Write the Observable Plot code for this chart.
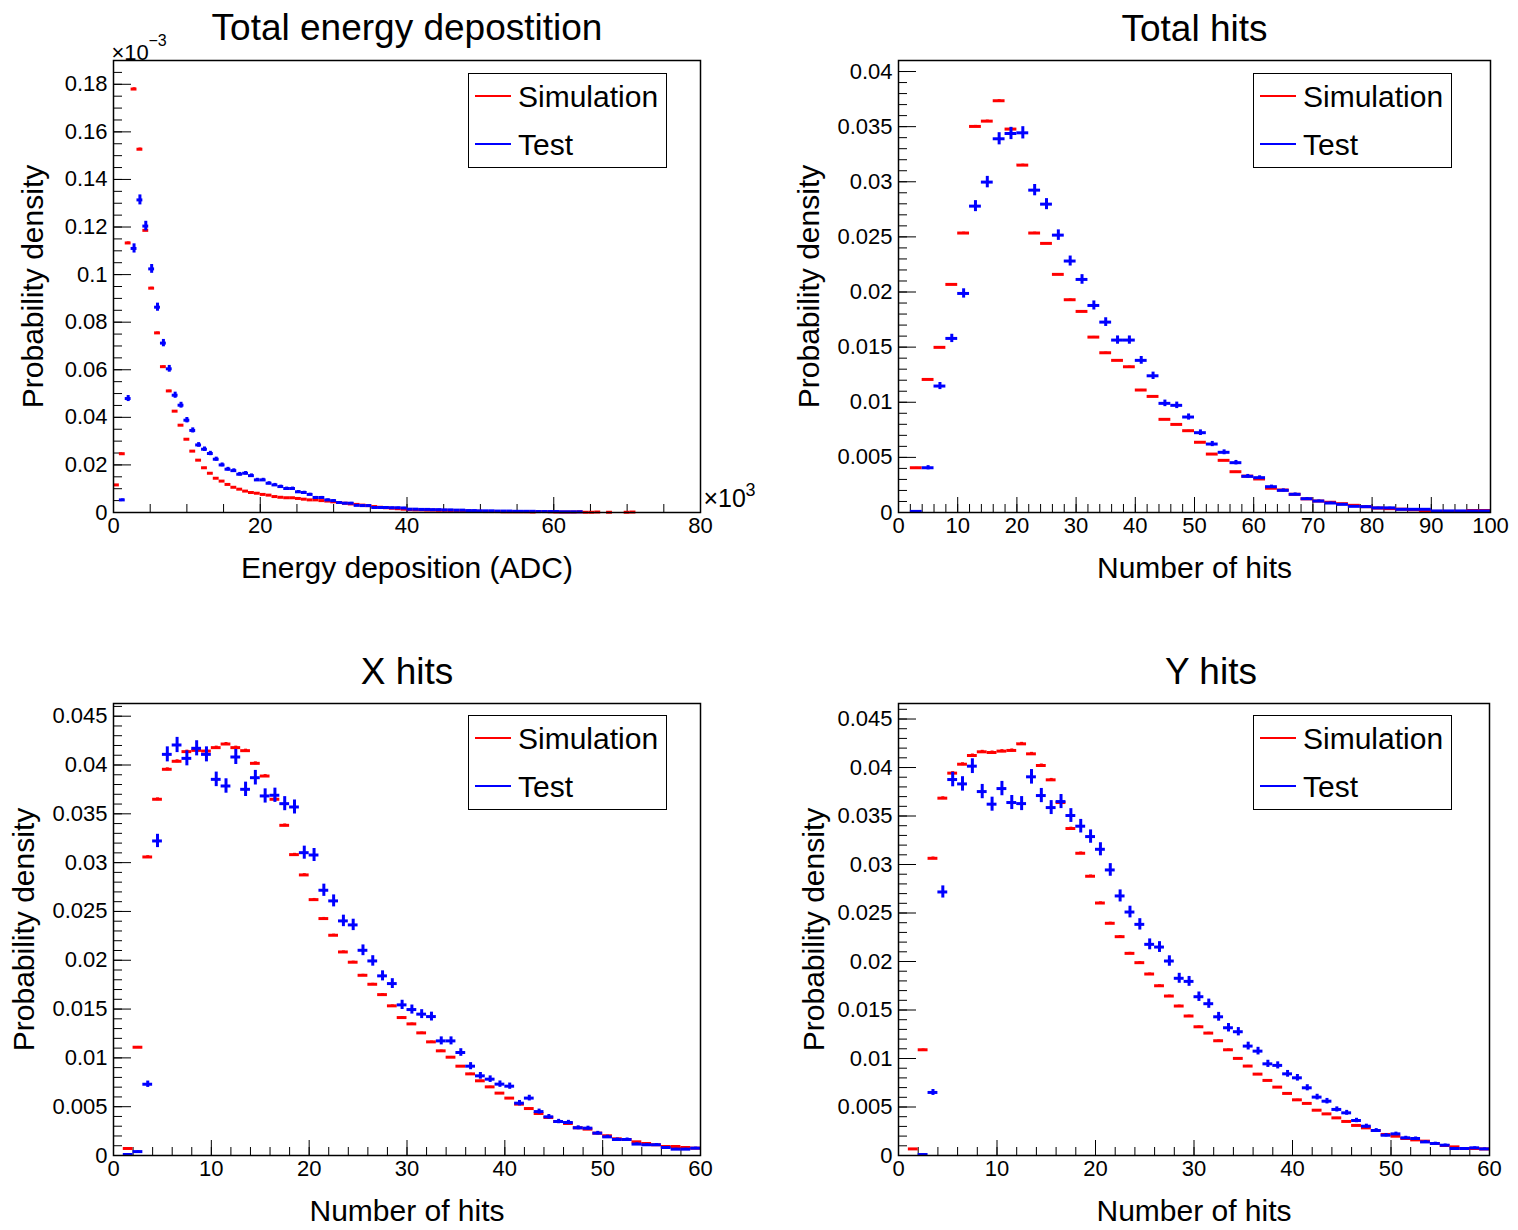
<!DOCTYPE html>
<html>
<head>
<meta charset="utf-8">
<script src="https://cdn.jsdelivr.net/npm/d3@7"></script>
<script src="https://cdn.jsdelivr.net/npm/@observablehq/plot@0.6"></script>
<style>
  html, body { margin: 0; padding: 0; background: #fff; }
  #root { position: relative; width: 1518px; height: 1230px; background: #fff; overflow: hidden;
          font-family: "Liberation Sans", Arial, Helvetica, sans-serif; }
  .panel { position: absolute; }
  .legend { position: absolute; width: 197px; height: 93px; border: 1.5px solid #000; background: #fff; }
  .legend .ln { position: absolute; left: 6px; width: 36px; height: 2px; }
  .legend .tx { position: absolute; left: 49px; font-size: 30px; line-height: 30px; color: #000; }
</style>
</head>
<body>
<div id="root"></div>
<script>
// ---------------- DATA ----------------
const seriesNames = ["Simulation", "Test"];
const seriesColors = ["#ff0000", "#0000ff"];

// Panel 1: Total energy deposition (x in units of 10^3 ADC, y in units of 10^-3), bins of 0.8
const energyBinStart = 0;
const energyBinWidth = 0.8;
const energySim = [
  0.0116, 0.0247, 0.1133, 0.178, 0.1527, 0.1186, 0.0943, 0.0755, 0.0613, 0.0511,
  0.0426, 0.0367, 0.0308, 0.0258, 0.0220, 0.0188, 0.0165, 0.0144, 0.0132, 0.0118,
  0.0106, 0.0098, 0.0090, 0.0084, 0.0081, 0.0076, 0.0073, 0.0067, 0.0064, 0.0062,
  0.0062, 0.0059, 0.0056, 0.0053, 0.0053, 0.0050, 0.0048, 0.0045, 0.0042, 0.0039,
  0.0036, 0.0034, 0.0031, 0.0029, 0.0025, 0.0022, 0.0020, 0.0018, 0.0016, 0.0014,
  0.0012, 0.0011, 0.0011, 0.0010, 0.0010, 0.0009, 0.0009, 0.0008, 0.0008, 0.0007,
  0.0006, 0.0005, 0.0005, 0.0004, 0.0004, 0.0004, 0.0003, 0.0003, 0.0003, 0.0003,
  0.0003, 0.0002, 0.0004, 0.0004, 0.0003, 0.0002, 0.0002, 0.0002, 0.0002, 0.0003,
  0.0001, 0.0001, 0.0002, 0, 0.0001, 0, 0, 0.0001, 0.0002, 0
];
const energyTest = [
  0, 0.0053, 0.0479, 0.111, 0.1314, 0.1204, 0.1024, 0.0863, 0.0712, 0.0604,
  0.0493, 0.0451, 0.0388, 0.0345, 0.0284, 0.0266, 0.0248, 0.0224, 0.0200, 0.0182,
  0.0176, 0.0161, 0.0165, 0.0155, 0.0137, 0.0137, 0.0123, 0.0116, 0.0109, 0.0101,
  0.0101, 0.0087, 0.0084, 0.0076, 0.0063, 0.0063, 0.0053, 0.0050, 0.0042, 0.0039,
  0.0039, 0.0030, 0.0029, 0.0029, 0.0021, 0.0021, 0.0021, 0.0020, 0.0020, 0.0019,
  0.0014, 0.0014, 0.0013, 0.0013, 0.0012, 0.0012, 0.0011, 0.0011, 0.0010, 0.0010,
  0.0008, 0.0008, 0.0007, 0.0007, 0.0007, 0.0006, 0.0006, 0.0006, 0.0005, 0.0005,
  0.0005, 0.0005, 0.0004, 0.0004, 0.0004, 0.0004, 0.0003, 0.0003, 0.0003, 0.0003
];
const energyErrScale = [0.0013, 0.0058];   // statistical error ~ k*sqrt(content)
const energyXTicks = [0, 20, 40, 60, 80];
const energyYTicks = [0, 0.02, 0.04, 0.06, 0.08, 0.1, 0.12, 0.14, 0.16, 0.18];

// Panel 2: Total hits, bins of 2
const hitsBinStart = 0;
const hitsBinWidth = 2;
const hitsSim = [
  0, 0.00406, 0.01207, 0.01498, 0.02069, 0.02535, 0.03502, 0.0355, 0.03735, 0.03478,
  0.03151, 0.02535, 0.02441, 0.0216, 0.0193, 0.01824, 0.01591, 0.01449, 0.0138, 0.01322,
  0.01111, 0.01053, 0.00845, 0.00799, 0.00742, 0.00637, 0.0053, 0.00473, 0.0037, 0.0033,
  0.00304, 0.0022, 0.00204, 0.00165, 0.00124, 0.00104, 0.00093, 0.0008, 0.00065, 0.00053,
  0.0004, 0.00035, 0.0003, 0.00025, 0.00014, 0.0001, 0.0001, 0.0001, 0.00018, 0.00018
];
const hitsTest = [
  0, 0.0001, 0.00406, 0.01147, 0.01579, 0.01987, 0.02779, 0.02997, 0.0339, 0.03438,
  0.03444, 0.02924, 0.02797, 0.02516, 0.02281, 0.02114, 0.01878, 0.01727, 0.01564, 0.01564,
  0.0138, 0.0124, 0.0099, 0.00972, 0.00866, 0.00724, 0.00621, 0.00546, 0.00452, 0.00328,
  0.00316, 0.00234, 0.00201, 0.00165, 0.00125, 0.00104, 0.00086, 0.00074, 0.00056, 0.00053,
  0.00042, 0.00042, 0.00029, 0.00029, 0.00029, 0.00014, 0.00014, 0.00014, 0.00014, 0.00014
];
const hitsErrScale = [0.0005, 0.003];
const hitsXTicks = [0, 10, 20, 30, 40, 50, 60, 70, 80, 90, 100];
const hitsYTicks = [0, 0.005, 0.01, 0.015, 0.02, 0.025, 0.03, 0.035, 0.04];

// Panel 3: X hits, bins of 1
const xyBinStart = 0;
const xyBinWidth = 1;
const xHitsSim = [
  0, 0.00072, 0.01109, 0.03058, 0.03649, 0.03956, 0.04038, 0.04137, 0.0415, 0.04143,
  0.04178, 0.04215, 0.04178, 0.04147, 0.04017, 0.03887, 0.03649, 0.03382, 0.03082, 0.02874,
  0.02621, 0.02427, 0.02256, 0.02085, 0.0198, 0.01846, 0.01754, 0.01648, 0.01533, 0.01413,
  0.01348, 0.01256, 0.01164, 0.01072, 0.01007, 0.00915, 0.00836, 0.00765, 0.00703, 0.00639,
  0.00588, 0.00526, 0.00481, 0.0043, 0.00389, 0.00348, 0.00328, 0.00284, 0.0027, 0.00229,
  0.00202, 0.00171, 0.00164, 0.0014, 0.00123, 0.0011, 0.00092, 0.00092, 0.00082, 0.00075
];
const xHitsTest = [
  0, 0.0001, 0.0004, 0.0073, 0.03222, 0.04109, 0.04205, 0.04068, 0.04171, 0.04109,
  0.03853, 0.03785, 0.04082, 0.03751, 0.0387, 0.03683, 0.0369, 0.03604, 0.0357, 0.03102,
  0.03078, 0.02717, 0.02608, 0.02403, 0.02362, 0.02102, 0.01993, 0.0184, 0.01761, 0.01543,
  0.01495, 0.01448, 0.01423, 0.01174, 0.01174, 0.01055, 0.00915, 0.00816, 0.00782, 0.00731,
  0.0071, 0.00536, 0.00588, 0.0045, 0.00396, 0.00348, 0.00338, 0.00284, 0.0028, 0.00229,
  0.00191, 0.00164, 0.00164, 0.00117, 0.0011, 0.0011, 0.00082, 0.00065, 0.00065, 0.00075
];
// Panel 4: Y hits, bins of 1
const yHitsSim = [
  0, 0.00068, 0.0109, 0.03064, 0.03684, 0.03942, 0.04034, 0.04124, 0.04162, 0.04155,
  0.04169, 0.04176, 0.04244, 0.04141, 0.04021, 0.03873, 0.03639, 0.03371, 0.03116, 0.02879,
  0.02603, 0.02394, 0.02256, 0.02084, 0.01988, 0.01871, 0.0175, 0.01644, 0.01541, 0.01438,
  0.01327, 0.01262, 0.01183, 0.0109, 0.01001, 0.00922, 0.00839, 0.00774, 0.00705, 0.0064,
  0.00574, 0.00537, 0.00467, 0.00429, 0.00388, 0.00351, 0.0031, 0.00285, 0.00258, 0.00217,
  0.00199, 0.00175, 0.00161, 0.00148, 0.00124, 0.00103, 0.00089, 0.00072, 0.00072, 0.00068
];
const yHitsTest = [
  0, 0, 0.0001, 0.0065, 0.02717, 0.03876, 0.03831, 0.04014, 0.03752, 0.03622,
  0.03783, 0.03639, 0.03628, 0.03904, 0.03711, 0.03587, 0.03649, 0.03505, 0.03395, 0.03288,
  0.03157, 0.02944, 0.02676, 0.0251, 0.02383, 0.02177, 0.02149, 0.02005, 0.01827, 0.01795,
  0.01637, 0.01565, 0.0143, 0.01317, 0.01276, 0.01128, 0.01076, 0.00945, 0.00929, 0.00842,
  0.00801, 0.00698, 0.00602, 0.0056, 0.00475, 0.0044, 0.00361, 0.00302, 0.00258, 0.00209,
  0.00223, 0.00182, 0.00175, 0.0014, 0.00124, 0.00106, 0.00072, 0.00072, 0.00079, 0.00068
];
const xyErrScale = [0.00075, 0.0038];
const xyXTicks = [0, 10, 20, 30, 40, 50, 60];
const xyYTicks = [0, 0.005, 0.01, 0.015, 0.02, 0.025, 0.03, 0.035, 0.04, 0.045];

const titles = ["Total energy depostition", "Total hits", "X hits", "Y hits"];
const xLabels = ["Energy deposition (ADC)", "Number of hits", "Number of hits", "Number of hits"];
const yLabel = "Probability density";

// ---------------- RENDERING ----------------
const FONT = '"Liberation Sans", Arial, Helvetica, sans-serif';
const fmt = d => d === 0 ? "0" : String(+d.toFixed(4));

function bins(values, start, width, k) {
  return values.map((v, i) => ({
    lo: start + i * width, hi: start + (i + 1) * width, c: start + (i + 0.5) * width,
    v, e: k * Math.sqrt(v)
  })).filter(d => d.v > 0);
}

function panel(cfg) {
  const marks = [
    Plot.axisX(d3.range(cfg.xDomain[0], cfg.xDomain[1] + 1e-9, cfg.xMinor), {tickSize: -8, fill: "none", label: null}),
    Plot.axisX(cfg.xTicks, {tickSize: -15, fill: "none", label: null}),
    Plot.axisY(d3.range(0, cfg.yDomain[1], cfg.yMinor), {tickSize: -9, fill: "none", label: null}),
    Plot.axisY(cfg.yTicks, {tickSize: -18, fill: "none", label: null}),
    Plot.axisX(cfg.xTicks, {tickSize: 0, tickPadding: 5, tickFormat: fmt, fontSize: 22, label: null}),
    Plot.axisY(cfg.yTicks, {tickSize: 0, tickPadding: 6, tickFormat: fmt, fontSize: 22, label: null}),
  ];
  cfg.series.forEach((s, j) => {
    const b = bins(s.values, cfg.binStart, cfg.binWidth, s.k);
    marks.push(
      Plot.ruleY(b, {y: "v", x1: "lo", x2: "hi", stroke: seriesColors[j], strokeWidth: 3}),
      Plot.ruleX(b, {x: "c", y1: d => Math.max(0, d.v - d.e), y2: d => d.v + d.e, stroke: seriesColors[j], strokeWidth: 3})
    );
  });
  marks.push(
    Plot.frame({stroke: "black", strokeWidth: 1.5}),
    Plot.text([cfg.title], {text: d => d, frameAnchor: "top", textAnchor: "middle", dy: cfg.titleDy, dx: cfg.titleDx || 0, fontSize: 37}),
    Plot.text([cfg.xLabel], {text: d => d, frameAnchor: "bottom", textAnchor: "middle", dy: 65, fontSize: 30}),
    Plot.text([yLabel], {text: d => d, frameAnchor: "left", textAnchor: "middle", rotate: -90, dx: cfg.yLabelDx, fontSize: 30})
  );
  if (cfg.extra) marks.push(...cfg.extra);
  const svg = Plot.plot({
    width: 759, height: 615,
    marginLeft: cfg.ml, marginRight: cfg.mr, marginTop: cfg.mt, marginBottom: cfg.mb,
    x: {domain: cfg.xDomain},
    y: {domain: cfg.yDomain},
    style: {fontFamily: FONT, fontSize: "22px", color: "black", background: "transparent", overflow: "visible"},
    marks
  });
  const wrap = document.createElement("div");
  wrap.className = "panel";
  wrap.style.left = cfg.left + "px";
  wrap.style.top = cfg.top + "px";
  wrap.appendChild(svg);
  return wrap;
}

function legend(left, top) {
  const d = document.createElement("div");
  d.className = "legend";
  d.style.left = left + "px";
  d.style.top = top + "px";
  seriesNames.forEach((name, j) => {
    const ln = document.createElement("div");
    ln.className = "ln";
    ln.style.top = (21 + 48 * j) + "px";
    ln.style.background = seriesColors[j];
    const tx = document.createElement("div");
    tx.className = "tx";
    tx.style.top = (8 + 48 * j) + "px";
    tx.textContent = name;
    d.appendChild(ln); d.appendChild(tx);
  });
  return d;
}

const root = document.getElementById("root");

root.appendChild(panel({
  left: 0, top: 0, ml: 113, mr: 59, mt: 60, mb: 103,
  xDomain: [0, 80], yDomain: [0, 0.19], xTicks: energyXTicks, yTicks: energyYTicks, xMinor: 5, yMinor: 0.005,
  binStart: energyBinStart, binWidth: energyBinWidth,
  series: [{values: energySim, k: energyErrScale[0]}, {values: energyTest, k: energyErrScale[1]}],
  title: titles[0], xLabel: xLabels[0], titleDy: -47, yLabelDx: -80,
  extra: [
    Plot.text(["×10"], {text: d => d, frameAnchor: "top-left", textAnchor: "start", dx: -2, dy: -16, fontSize: 22}),
    Plot.text(["−3"], {text: d => d, frameAnchor: "top-left", textAnchor: "start", dx: 35, dy: -26, fontSize: 16}),
    Plot.text(["×10"], {text: d => d, frameAnchor: "bottom-right", textAnchor: "start", dx: 3, dy: -6, fontSize: 25}),
    Plot.text(["3"], {text: d => d, frameAnchor: "bottom-right", textAnchor: "start", dx: 45, dy: -17, fontSize: 18})
  ]
}));

root.appendChild(panel({
  left: 759, top: 0, ml: 139, mr: 28, mt: 60, mb: 103,
  xDomain: [0, 100], yDomain: [0, 0.041], xTicks: hitsXTicks, yTicks: hitsYTicks, xMinor: 2, yMinor: 0.001,
  binStart: hitsBinStart, binWidth: hitsBinWidth,
  series: [{values: hitsSim, k: hitsErrScale[0]}, {values: hitsTest, k: hitsErrScale[1]}],
  title: titles[1], xLabel: xLabels[1], titleDy: -46, yLabelDx: -89
}));

root.appendChild(panel({
  left: 0, top: 615, ml: 113, mr: 59, mt: 88, mb: 75,
  xDomain: [0, 60], yDomain: [0, 0.0463], xTicks: xyXTicks, yTicks: xyYTicks, xMinor: 2, yMinor: 0.001,
  binStart: xyBinStart, binWidth: xyBinWidth,
  series: [{values: xHitsSim, k: xyErrScale[0]}, {values: xHitsTest, k: xyErrScale[1]}],
  title: titles[2], xLabel: xLabels[2], titleDy: -46, yLabelDx: -89
}));

root.appendChild(panel({
  left: 759, top: 615, ml: 139, mr: 29, mt: 88, mb: 75,
  xDomain: [0, 60], yDomain: [0, 0.0466], xTicks: xyXTicks, yTicks: xyYTicks, xMinor: 2, yMinor: 0.001,
  binStart: xyBinStart, binWidth: xyBinWidth,
  series: [{values: yHitsSim, k: xyErrScale[0]}, {values: yHitsTest, k: xyErrScale[1]}],
  title: titles[3], xLabel: xLabels[3], titleDy: -46, titleDx: 17, yLabelDx: -84
}));

root.appendChild(legend(468, 73));
root.appendChild(legend(1253, 73));
root.appendChild(legend(468, 715));
root.appendChild(legend(1253, 715));
</script>
</body>
</html>
